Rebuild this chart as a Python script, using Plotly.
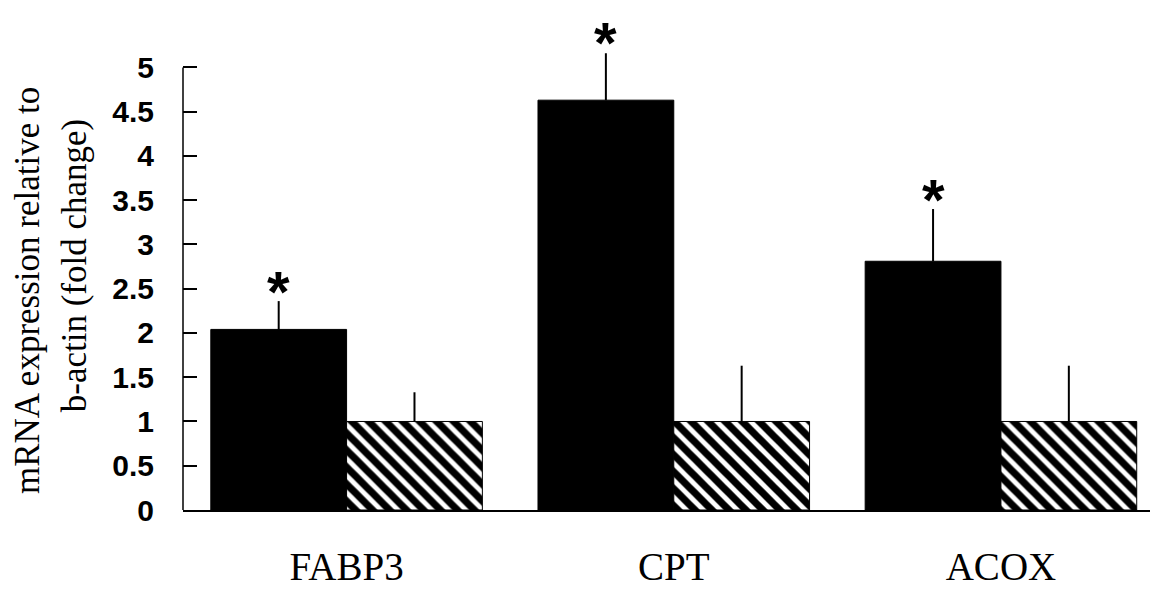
import plotly.graph_objects as go

categories = ["FABP3", "CPT", "ACOX"]
treated = [2.04, 4.63, 2.81]
treated_err = [0.32, 0.53, 0.59]
control = [1.0, 1.0, 1.0]
control_err = [0.33, 0.63, 0.63]
significant = ["*", "*", "*"]
y_ticks = [0, 0.5, 1, 1.5, 2, 2.5, 3, 3.5, 4, 4.5, 5]
y_ticktext = ["0", "0.5", "1", "1.5", "2", "2.5", "3", "3.5", "4", "4.5", "5"]
y_title_lines = ["mRNA expression relative to", "b-actin (fold change)"]

# page has an 8px body margin, so the figure is sized to fit the 1158x590 window
W, H = 1150, 582
ML, MR, MT, MB = 175, 0, 24, 80
XR = [-0.5, 2.48]
YR = [0, 5.4]
BARGAP = 0.17
STAR_LIFT = [0, 1, 0]

fig = go.Figure()
fig.add_trace(go.Bar(
    x=categories, y=treated, name="Treated",
    marker=dict(color="black", line=dict(color="black", width=1)),
    error_y=dict(type="data", array=treated_err, arrayminus=[0]*3, symmetric=False,
                 color="black", thickness=2, width=0),
))
fig.add_trace(go.Bar(
    x=categories, y=control, name="Control",
    marker=dict(color="white", line=dict(color="black", width=1),
                pattern=dict(shape="\\", fgcolor="black", fgopacity=1, bgcolor="white",
                             size=12, solidity=0.6)),
    error_y=dict(type="data", array=control_err, arrayminus=[0]*3, symmetric=False,
                 color="black", thickness=2, width=0),
))

plot_w = W - ML - MR
px_per_cat = plot_w / (XR[1] - XR[0])
bar_shift = -(1 - BARGAP) * px_per_cat / 4

for c, v, e, s, lift in zip(categories, treated, treated_err, significant, STAR_LIFT):
    fig.add_annotation(x=c, y=v + e, xref="x", yref="y", text=s, showarrow=False,
                       xshift=bar_shift, yanchor="bottom", yshift=-25 + lift,
                       font=dict(family="Liberation Sans", size=58, color="black", weight="bold"))

# two-line rotated y-axis title
for line, xs, yp in zip(y_title_lines, [-156, -109], [0.458, 0.510]):
    fig.add_annotation(text=line, xref="paper", yref="paper", x=0, y=yp, xshift=xs,
                       xanchor="center", yanchor="middle", textangle=-90, showarrow=False,
                       font=dict(family="Liberation Serif", size=35, color="black"))

# y axis line drawn only up to 5
fig.add_shape(type="line", xref="paper", yref="y", x0=0, x1=0, y0=0, y1=max(y_ticks),
              line=dict(color="black", width=1.5))

fig.update_layout(
    width=W, height=H,
    margin=dict(l=ML, r=MR, t=MT, b=MB, autoexpand=False),
    paper_bgcolor="white", plot_bgcolor="white",
    barmode="group", bargap=BARGAP, bargroupgap=0,
    showlegend=False,
    xaxis=dict(range=XR, showgrid=False, showline=True, linecolor="black", linewidth=1.5,
               ticks="", tickfont=dict(family="Liberation Serif", size=39, color="black"),
               ticklabelstandoff=21, zeroline=False, automargin=False),
    yaxis=dict(range=YR, showgrid=False, showline=False, zeroline=False, automargin=False,
               tickvals=y_ticks, ticktext=y_ticktext,
               ticks="inside", ticklen=14, tickwidth=1.5, tickcolor="black",
               ticklabelstandoff=28,
               tickfont=dict(family="Liberation Sans", size=30, color="black", weight="bold")),
)

fig.write_html("out.html")
